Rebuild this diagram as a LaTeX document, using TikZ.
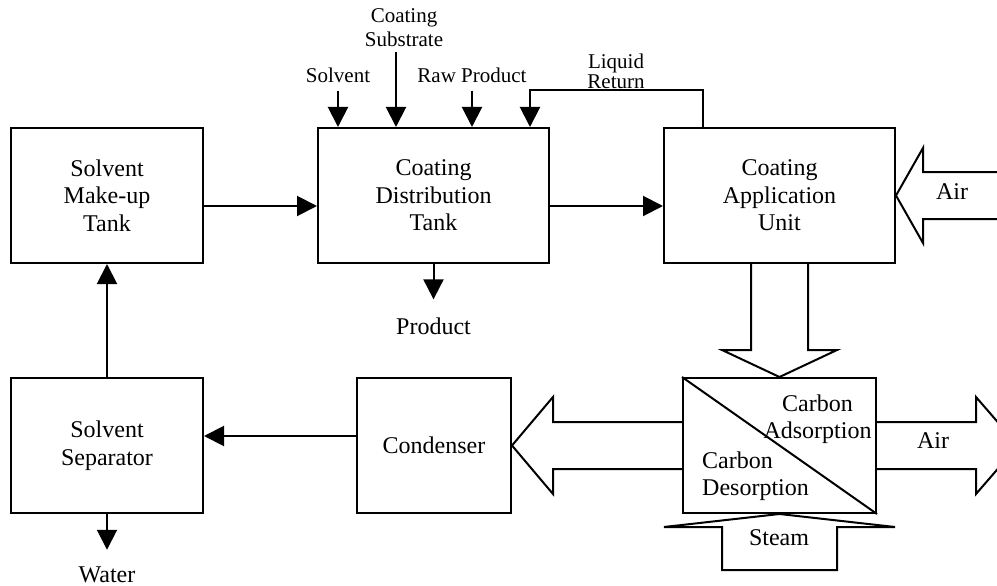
\documentclass[tikz,border=0pt]{standalone}
\usepackage{fontspec}
\setmainfont{Liberation Serif}
\usetikzlibrary{arrows.meta}

\tikzset{
  unit/.style = {draw, line width=2pt, align=center, font=\fontsize{24}{27.5}\selectfont},
  lbl/.style = {inner sep=0pt, align=center, font=\fontsize{24}{27.5}\selectfont},
  small/.style = {inner sep=0pt, align=center, font=\fontsize{21}{24}\selectfont},
  flow/.style = {line width=2pt, -{Triangle[length=20pt, width=20pt]}},
  fat/.style = {line width=2pt, line join=miter},
}

\begin{document}
\begin{tikzpicture}[x=1pt, y=-1pt]
  \useasboundingbox (0, 0) rectangle (997, 586);

  % 装置
  \node[unit, minimum width=192pt, minimum height=135pt] (makeup) at (107, 195.5) {Solvent\\Make-up\\Tank};
  \node[unit, minimum width=231pt, minimum height=135pt] (dist) at (433.5, 195.5) {Coating\\Distribution\\Tank};
  \node[unit, minimum width=231pt, minimum height=135pt] (cau) at (779.5, 195.5) {Coating\\Application\\Unit};
  \node[unit, minimum width=192pt, minimum height=135pt] (sep) at (107, 445.5) {Solvent\\Separator};
  \node[unit, minimum width=154pt, minimum height=135pt] (cond) at (434, 445.5) {Condenser};
  \node[unit, minimum width=193pt, minimum height=135pt] (carbon) at (779.5, 445.5) {};
  \draw[line width=2pt] (carbon.north west) -- (carbon.south east);	% 対角線

  % 吸着・脱着
  \node[lbl] (ads) at (817.5, 419) {Carbon\\Adsorption};
  \node[lbl, anchor=west, align=left] (des) at (702, 476) {Carbon\\Desorption};

  % ラベル
  \node[small] (solv) at (338, 75) {Solvent};
  \node[small] (sub) at (404, 28) {Coating\\Substrate};
  \node[small] (raw) at (472, 75) {Raw Product};
  \node[small] (ret) at (616, 71) {Liquid\\[-4pt]Return};
  \node[lbl] (prod) at (433.5, 326) {Product};
  \node[lbl] (water) at (107, 575) {Water};
  \node[lbl] (airin) at (952, 192) {Air};
  \node[lbl] (airout) at (933, 441) {Air};
  \node[lbl] (steam) at (779, 538) {Steam};

  % 細い矢印
  \draw[flow] ([yshift=-10.5pt]makeup.east) -- ([yshift=-10.5pt]dist.west);
  \draw[flow] ([yshift=-10.5pt]dist.east) -- ([yshift=-10.5pt]cau.west);
  \draw[flow] (sep.north) -- (makeup.south);
  \draw[flow] ([yshift=9.5pt]cond.west) -- ([yshift=9.5pt]sep.east);
  \draw[flow] (sep.south) -- ([yshift=17pt]water.north);
  \draw[flow] (dist.south) -- ([yshift=18pt]prod.north);

  % 上からの入力
  \draw[flow] ([yshift=-8pt]solv.south) -- (solv.south |- dist.north);
  \draw[flow] ([xshift=-8pt, yshift=-5pt]sub.south) -- ([xshift=-8pt]sub.south |- dist.north);
  \draw[flow] ([yshift=-8pt]raw.south) -- (raw.south |- dist.north);
  \draw[flow] ([xshift=-76.5pt]cau.north) |- ([yshift=-1.5pt]ret.south) -| ([xshift=96.5pt]dist.north);

  % 太い矢印
  \draw[fat] (1000, 172) -- (923, 172) -- (923, 148) -- (cau.east)
    -- (923, 243) -- (923, 219) -- (1000, 219);
  \draw[fat] (751, 263) -- (751, 350) -- (722, 350) -- (carbon.north)
    -- (837, 350) -- (808, 350) -- (808, 263);
  \draw[fat] (683, 422) -- (553, 422) -- (553, 397) -- (cond.east)
    -- (553, 494) -- (553, 469) -- (683, 469);
  \draw[fat] (876, 422) -- (976, 422) -- (976, 397) -- (1018, 445.5)
    -- (976, 494) -- (976, 469) -- (876, 469);
  \draw[fat] (carbon.south) -- (895, 527) -- (837, 527) -- (837, 570)
    -- (722, 570) -- (722, 527) -- (664, 527) -- cycle;

\end{tikzpicture}
\end{document}
